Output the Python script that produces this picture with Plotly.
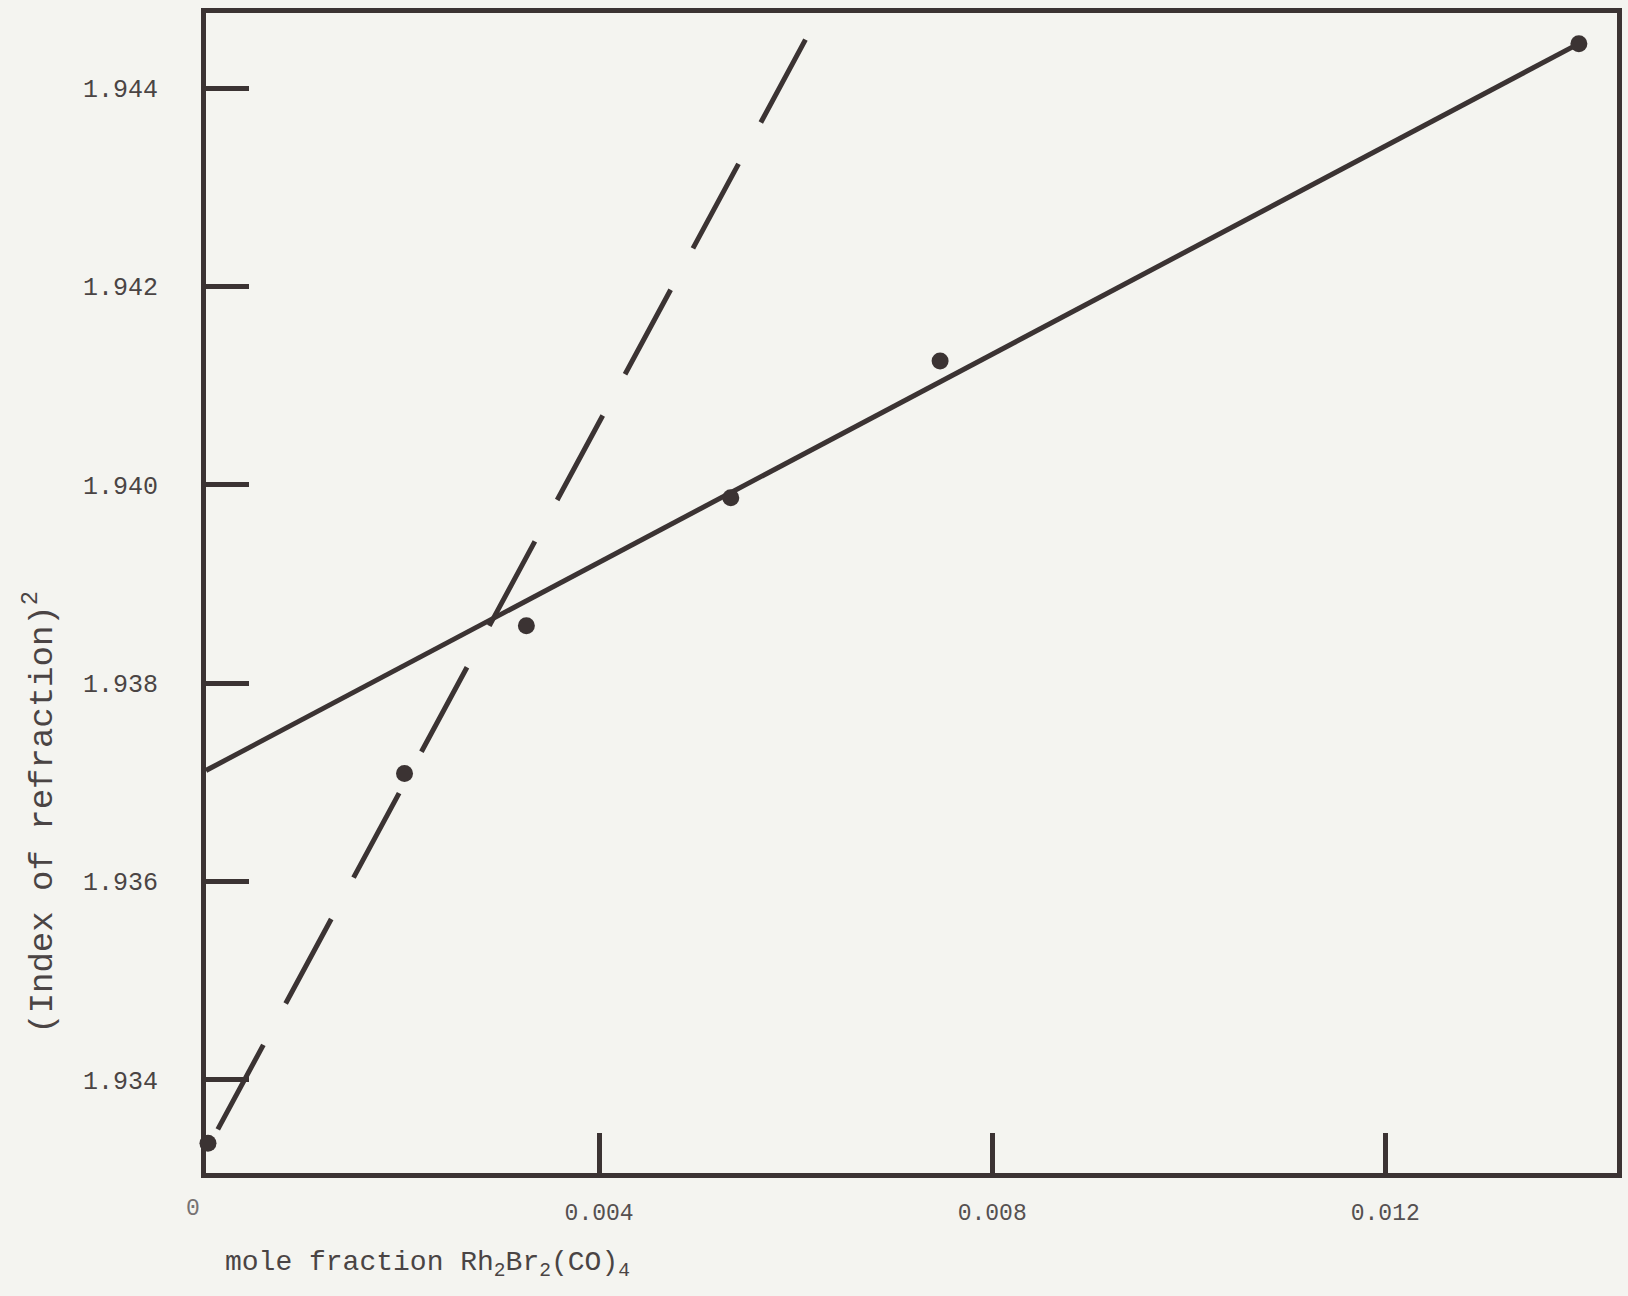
import plotly.graph_objects as go

# Data
mole_fraction = [0.00002, 0.00202, 0.00326, 0.00534, 0.00747, 0.01397]
index_sq = [1.93336, 1.93709, 1.93858, 1.93987, 1.94125, 1.94445]

solid_x = [0.0, 0.01397]
solid_y = [1.93712, 1.94445]

dash_x = [0.00012, 0.00610]
dash_y = [1.93350, 1.94449]

y_ticks = [1.934, 1.936, 1.938, 1.940, 1.942, 1.944]
y_ticklabels = ["1.934", "1.936", "1.938", "1.940", "1.942", "1.944"]
x_ticks = [0.004, 0.008, 0.012]
x_ticklabels = ["0.004", "0.008", "0.012"]

INK = "#3b3333"
PAPER = "#f4f4f0"
FONT = "Liberation Mono, DejaVu Sans Mono, monospace"

fig = go.Figure()
fig.add_trace(go.Scatter(x=dash_x, y=dash_y, mode="lines",
                         line=dict(color=INK, width=5, dash="96px,47px"),
                         showlegend=False, hoverinfo="skip"))
fig.add_trace(go.Scatter(x=solid_x, y=solid_y, mode="lines",
                         line=dict(color=INK, width=5),
                         showlegend=False, hoverinfo="skip"))
fig.add_trace(go.Scatter(x=mole_fraction, y=index_sq, mode="markers",
                         marker=dict(color=INK, size=17),
                         showlegend=False, cliponaxis=False))

fig.update_xaxes(range=[0, 0.014358], tickvals=x_ticks, ticktext=x_ticklabels,
                 ticks="inside", ticklen=40, tickwidth=5, tickcolor=INK,
                 showline=True, linewidth=5, linecolor=INK, mirror=True,
                 showgrid=False, zeroline=False, ticklabelstandoff=14,
                 tickfont=dict(family=FONT, size=23, color="#555050"))
fig.update_yaxes(range=[1.93306, 1.944759], tickvals=y_ticks, ticktext=y_ticklabels,
                 ticks="inside", ticklen=43, tickwidth=5, tickcolor=INK,
                 showline=True, linewidth=5, linecolor=INK, mirror=True,
                 showgrid=False, zeroline=False, ticklabelstandoff=38,
                 tickfont=dict(family=FONT, size=25, color="#4a4444"))

fig.add_annotation(text="0", xref="paper", yref="paper", x=-0.009, y=-0.018,
                   showarrow=False, xanchor="center", yanchor="top",
                   font=dict(family=FONT, size=23, color="#777272"))
fig.add_annotation(text="mole fraction Rh<sub>2</sub>Br<sub>2</sub>(CO)<sub>4</sub>",
                   xref="paper", yref="paper", x=0.012, y=-0.079,
                   showarrow=False, xanchor="left", yanchor="middle",
                   font=dict(family=FONT, size=28, color="#4a4444"))
fig.add_annotation(text="(Index of refraction)<sup>2</sup>",
                   xref="paper", yref="paper", x=-0.118, y=0.311,
                   showarrow=False, textangle=-90, xanchor="center", yanchor="middle",
                   font=dict(family=FONT, size=34, color="#4a4444"))

fig.update_layout(width=1628, height=1296,
                  margin=dict(l=206, r=6, t=13, b=123),
                  paper_bgcolor=PAPER, plot_bgcolor=PAPER)

fig.write_html("out.html", config={"displayModeBar": False},
               post_script="document.body.style.margin='0';"
                           "document.body.style.overflow='hidden';"
                           "document.body.style.background='" + PAPER + "';")
